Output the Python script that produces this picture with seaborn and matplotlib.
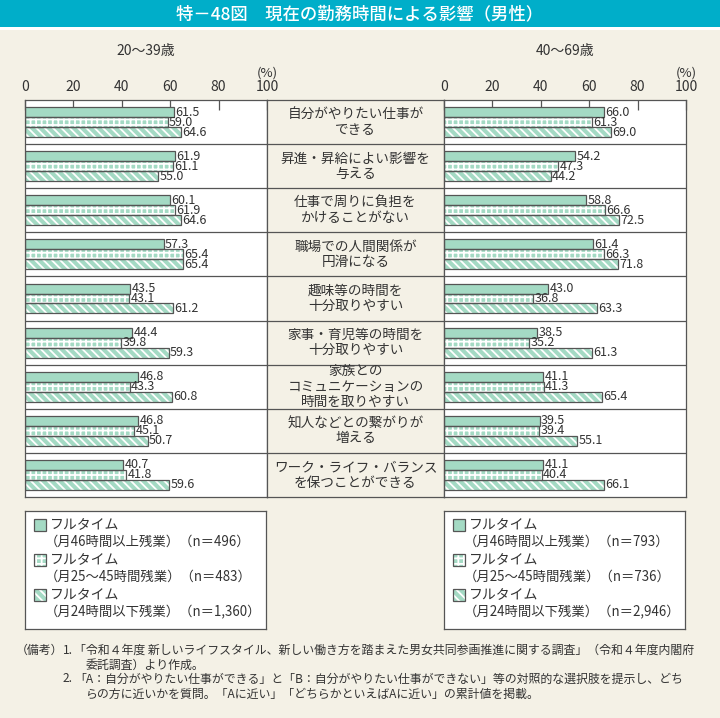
import numpy as np
import pandas as pd
import matplotlib
matplotlib.use("Agg")
import matplotlib.pyplot as plt
from matplotlib.patches import Rectangle
import seaborn as sns

sns.set_theme(style="white")
plt.rcParams['font.family'] = ['Noto Sans CJK JP', 'DejaVu Sans']
plt.rcParams['hatch.linewidth'] = 1.3

# ---- data ----
items = ["自分がやりたい仕事が\nできる", "昇進・昇給によい影響を\n与える",
         "仕事で周りに負担を\nかけることがない", "職場での人間関係が\n円滑になる",
         "趣味等の時間を\n十分取りやすい", "家事・育児等の時間を\n十分取りやすい",
         "家族との\nコミュニケーションの\n時間を取りやすい",
         "知人などとの繋がりが\n増える", "ワーク・ライフ・バランス\nを保つことができる"]
groups = ["46h", "25-45h", "24h"]

young_46 = [61.5, 61.9, 60.1, 57.3, 43.5, 44.4, 46.8, 46.8, 40.7]
young_25 = [59.0, 61.1, 61.9, 65.4, 43.1, 39.8, 43.3, 45.1, 41.8]
young_24 = [64.6, 55.0, 64.6, 65.4, 61.2, 59.3, 60.8, 50.7, 59.6]
old_46 = [66.0, 54.2, 58.8, 61.4, 43.0, 38.5, 41.1, 39.5, 41.1]
old_25 = [61.3, 47.3, 66.6, 66.3, 36.8, 35.2, 41.3, 39.4, 40.4]
old_24 = [69.0, 44.2, 72.5, 71.8, 63.3, 61.3, 65.4, 55.1, 66.1]

legend_young = ["（月46時間以上残業）（n＝496）", "（月25～45時間残業）（n＝483）",
                "（月24時間以下残業）（n＝1,360）"]
legend_old = ["（月46時間以上残業）（n＝793）", "（月25～45時間残業）（n＝736）",
              "（月24時間以下残業）（n＝2,946）"]

note_head = "（備考）"
note_nums = ["1.", "2."]
notes = [
    "「令和４年度 新しいライフスタイル、新しい働き方を踏まえた男女共同参画推進に関する調査」（令和４年度内閣府",
    "委託調査）より作成。",
    "「A：自分がやりたい仕事ができる」と「B：自分がやりたい仕事ができない」等の対照的な選択肢を提示し、どち",
    "らの方に近いかを質問。「Aに近い」「どちらかといえばAに近い」の累計値を掲載。",
]

BG = "#F4F1E6"
MINT = "#A4DAC4"
EDGE = "#555555"
TEAL = "#00AEC9"
TXT = "#333333"
hatches = [None, "+++", "\\\\\\\\"]


def make_df(a, b, c):
    rows = []
    for g, vals in zip(groups, [a, b, c]):
        for it, v in zip(items, vals):
            rows.append({"item": it, "group": g, "value": v})
    return pd.DataFrame(rows)


W, H = 720, 718
fig = plt.figure(figsize=(W / 100, H / 100), dpi=100)
fig.patch.set_facecolor(BG)


def fx(px):
    return px / W


def fy(py):
    return 1 - py / H


# title bar
fig.patches.append(Rectangle((0, fy(27)), 1, 27 / H, transform=fig.transFigure,
                             facecolor=TEAL, edgecolor="none", zorder=0))
fig.patches.append(Rectangle((0, fy(30)), 1, 3 / H, transform=fig.transFigure,
                             facecolor="white", edgecolor="none", zorder=0))
fig.text(0.5, fy(14), "特－48図　現在の勤務時間による影響（男性）", color="white",
         fontsize=12.5, ha="center", va="center", fontweight="medium")

top, bot = 100, 497
ax_l = fig.add_axes([fx(25), fy(bot), fx(242), (bot - top) / H])
ax_c = fig.add_axes([fx(267), fy(bot), fx(177), (bot - top) / H])
ax_r = fig.add_axes([fx(444), fy(bot), fx(242), (bot - top) / H])


def draw_panel(ax, df):
    sns.barplot(data=df, x="value", y="item", hue="group", orient="h",
                hue_order=groups, width=0.68, ax=ax, legend=False,
                palette=[MINT] * 3, saturation=1)
    ax.set_facecolor("white")
    for cont, h in zip(ax.containers, hatches):
        for p in cont.patches:
            if h:
                p.set_hatch(h)
                p.set_edgecolor("white")
            p.set_linewidth(0)
            ax.add_patch(Rectangle(p.get_xy(), p.get_width(), p.get_height(),
                                   fill=False, edgecolor=EDGE, lw=0.9, zorder=3))
            val = p.get_width()
            ax.text(val + 0.5, p.get_y() + p.get_height() / 2, f"{val:.1f}",
                    va="center", ha="left", fontsize=9, color=TXT, zorder=4)
    ax.set_xlim(0, 100)
    ax.set_ylim(len(items) - 0.5, -0.5)
    for k in range(1, len(items)):
        ax.axhline(k - 0.5, color=EDGE, lw=0.9)
    ax.xaxis.tick_top()
    ax.set_xticks([0, 20, 40, 60, 80, 100])
    ax.tick_params(axis="x", direction="in", length=7, width=0.9, color=EDGE,
                   labelsize=10, pad=4, labelcolor=TXT)
    ax.set_yticks([])
    ax.set_xlabel("")
    ax.set_ylabel("")
    for s in ax.spines.values():
        s.set_color(EDGE)
        s.set_linewidth(0.9)
    ax.text(1.0, 1.0 + 20 / (bot - top), "(%)", transform=ax.transAxes,
            ha="center", va="bottom", fontsize=9.5, color=TXT)


draw_panel(ax_l, make_df(young_46, young_25, young_24))
draw_panel(ax_r, make_df(old_46, old_25, old_24))

fig.text(fx(146), fy(51), "20〜39歳", ha="center", va="center", fontsize=10, color=TXT)
fig.text(fx(565), fy(51), "40〜69歳", ha="center", va="center", fontsize=10, color=TXT)

# center label column
ax_c.set_facecolor(BG)
ax_c.set_xlim(0, 1)
ax_c.set_ylim(len(items) - 0.5, -0.5)
ax_c.set_xticks([])
ax_c.set_yticks([])
for s in ax_c.spines.values():
    s.set_color(EDGE)
    s.set_linewidth(0.9)
for k in range(1, len(items)):
    ax_c.axhline(k - 0.5, color=EDGE, lw=0.9)
for i, it in enumerate(items):
    ax_c.text(0.5, i, it, ha="center", va="center", fontsize=9.8,
              color=TXT, linespacing=1.12)


def draw_legend(x0, labels):
    lax = fig.add_axes([fx(x0), fy(629), fx(241), 118 / H])
    lax.set_facecolor("white")
    lax.set_xlim(0, 241)
    lax.set_ylim(118, 0)
    lax.set_xticks([])
    lax.set_yticks([])
    for s in lax.spines.values():
        s.set_color(EDGE)
        s.set_linewidth(0.9)
    for j, (lab, h) in enumerate(zip(labels, hatches)):
        y1 = 14 + j * 35
        lax.add_patch(Rectangle((9, y1 - 6), 12, 12, facecolor=MINT,
                                edgecolor="white" if h else MINT, hatch=h, lw=0))
        lax.add_patch(Rectangle((9, y1 - 6), 12, 12, fill=False, edgecolor=EDGE, lw=0.9))
        lax.text(25, y1, "フルタイム", va="center", ha="left", fontsize=10, color=TXT)
        lax.text(20, y1 + 17, lab, va="center", ha="left", fontsize=9.6, color=TXT)


draw_legend(25, legend_young)
draw_legend(444, legend_old)

note_kw = dict(fontsize=8.6, color=TXT, va="center", ha="left")
ys = [650, 665, 679, 694]
fig.text(fx(16), fy(ys[0]), note_head, **note_kw)
fig.text(fx(63), fy(ys[0]), note_nums[0], **note_kw)
fig.text(fx(74), fy(ys[0]), notes[0], **note_kw)
fig.text(fx(86), fy(ys[1]), notes[1], **note_kw)
fig.text(fx(63), fy(ys[2]), note_nums[1], **note_kw)
fig.text(fx(74), fy(ys[2]), notes[2], **note_kw)
fig.text(fx(86), fy(ys[3]), notes[3], **note_kw)

fig.savefig("out.png", dpi=100, facecolor=BG)
